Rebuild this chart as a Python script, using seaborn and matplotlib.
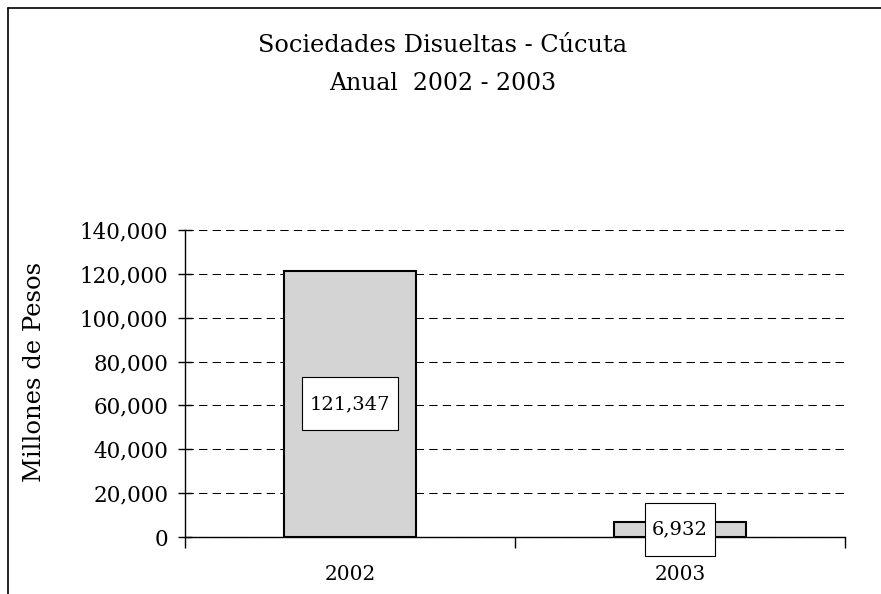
import matplotlib
matplotlib.use("Agg")
import matplotlib.pyplot as plt
import seaborn as sns
import pandas as pd
from matplotlib.lines import Line2D
from matplotlib.patches import Rectangle
from matplotlib.transforms import ScaledTranslation
from matplotlib.ticker import FuncFormatter, MultipleLocator, FixedLocator

years = ["2002", "2003"]
values = [121347, 6932]
value_labels = ["121,347", "6,932"]
title_lines = ["Sociedades Disueltas - Cúcuta", "Anual  2002 - 2003"]
y_label = "Millones de Pesos"

sns.set_style("white")
plt.rcParams["font.family"] = ["DejaVu Serif"]
plt.rcParams["text.color"] = "black"
plt.rcParams["axes.labelcolor"] = "black"
plt.rcParams["xtick.color"] = "black"
plt.rcParams["ytick.color"] = "black"

df = pd.DataFrame({"year": years, "value": values})

fig = plt.figure(figsize=(8.81, 5.94), dpi=100)
ax = fig.add_axes([185/881, 57/594, 660/881, 307/594])

sns.barplot(data=df, x="year", y="value", ax=ax, width=0.4,
            color="#d4d4d4", edgecolor="black", linewidth=1.5, saturation=1)

ax.set_xlim(-0.5, 1.5)
ax.set_ylim(0, 140000)
ax.yaxis.set_major_locator(MultipleLocator(20000))
ax.yaxis.set_major_formatter(FuncFormatter(lambda v, p: f"{int(v):,}"))
ax.grid(axis="y", color="black", linestyle=(0, (8, 5)), linewidth=0.75)
ax.set_axisbelow(True)

for s in ["top", "right"]:
    ax.spines[s].set_visible(False)
for s in ["left", "bottom"]:
    ax.spines[s].set_color("black")
    ax.spines[s].set_linewidth(1.0)

ax.tick_params(axis="y", which="major", direction="inout", length=10, width=1,
               color="black", labelsize=15.5, pad=7, left=True)
ax.tick_params(axis="x", which="major", length=0, labelsize=14.5, pad=20)
ax.xaxis.set_minor_locator(FixedLocator([-0.5, 0.5, 1.5]))
ax.tick_params(axis="x", which="minor", direction="out", length=8, width=1,
               color="black", bottom=True)

ax.set_xlabel("")
ax.set_ylabel(y_label, fontsize=17.5)
ax.yaxis.set_label_coords((46 - 185) / 660, (537 - 372) / 307)

fig.canvas.draw()
renderer = fig.canvas.get_renderer()
for i, (v, lab) in enumerate(zip(values, value_labels)):
    t = ax.text(i, v / 2, lab, ha="center", va="center", fontsize=14, zorder=6)
    bb = t.get_window_extent(renderer)
    w_in = (bb.width + 15) / fig.dpi
    h_in = 53 / fig.dpi
    tr = fig.dpi_scale_trans + ScaledTranslation(i, v / 2, ax.transData)
    ax.add_patch(Rectangle((-w_in / 2, -h_in / 2), w_in, h_in, transform=tr,
                           facecolor="white", edgecolor="black", linewidth=0.8,
                           zorder=5, clip_on=False))

fig.text(0.502, 1 - 45/594, title_lines[0], ha="center", va="center", fontsize=17.3)
fig.text(0.502, 1 - 84/594, title_lines[1], ha="center", va="center", fontsize=17)

fig.add_artist(Line2D([8/881, 1], [1 - 8/594, 1 - 8/594], color="black", linewidth=1.2,
                      transform=fig.transFigure))
fig.add_artist(Line2D([8/881, 8/881], [0, 1 - 8/594], color="black", linewidth=1.2,
                      transform=fig.transFigure))

fig.savefig("out.png", dpi=100)
